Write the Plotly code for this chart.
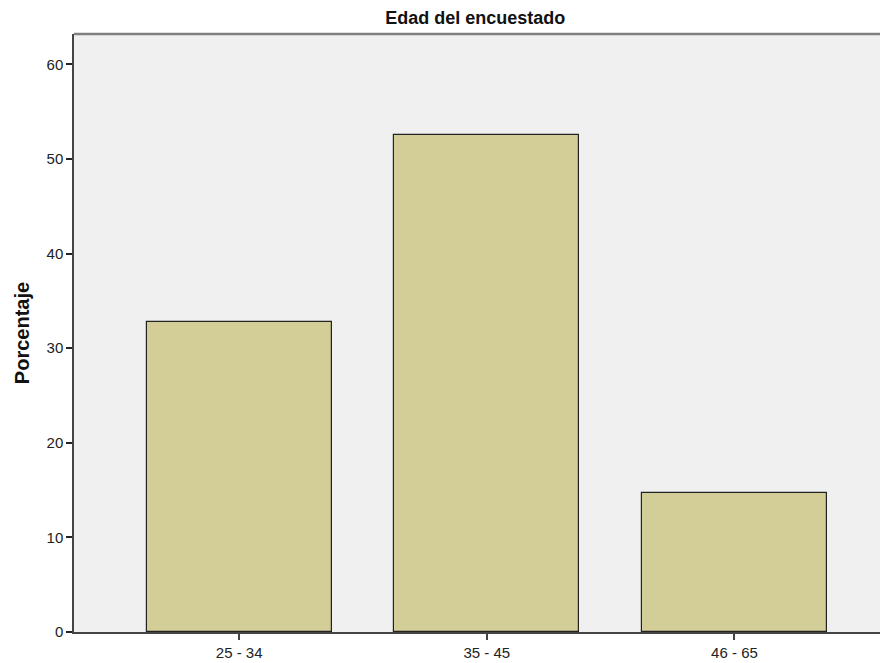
import plotly.graph_objects as go

categories = ["25 - 34", "35 - 45", "46 - 65"]
percentages = [32.8, 52.5, 14.7]
y_ticks = [0, 10, 20, 30, 40, 50, 60]

fig = go.Figure()
fig.add_trace(go.Bar(
    x=[0, 1, 2], y=percentages, width=0.746,
    marker=dict(color="#d3cd98", line=dict(color="#222222", width=1.2)),
))

fig.update_layout(
    width=880, height=655,
    margin=dict(l=66, r=0, t=26, b=31),
    paper_bgcolor="white", plot_bgcolor="#f0f0f0",
    showlegend=False,
    font=dict(family="Liberation Sans, Arial, sans-serif", color="#222222", size=15),
    title=dict(text="<b>Edad del encuestado</b>", x=0.531, xanchor="center",
               y=0.985, yanchor="middle", font=dict(size=18, color="#111111")),
    bargap=0,
)
fig.update_xaxes(
    range=[-0.667, 2.62], tickvals=[0, 1, 2], ticktext=categories,
    showgrid=False, zeroline=False, showline=True, linecolor="#444444", linewidth=1.5,
    ticks="outside", ticklen=6, tickcolor="#444444", tickwidth=1.5,
    tickfont=dict(size=15),
)
fig.update_yaxes(
    range=[0, 63.2], tickvals=y_ticks,
    showgrid=False, zeroline=False, showline=True, linecolor="#444444", linewidth=1.5,
    ticks="outside", ticklen=6, tickcolor="#222222", tickwidth=1.5,
    tickfont=dict(size=15),
    title=dict(text="<b>Porcentaje</b>", font=dict(size=20, color="#111111"), standoff=12),
)
fig.add_shape(type="line", xref="paper", yref="paper", x0=0, x1=1, y0=1, y1=1,
              line=dict(color="#808080", width=2.5))

fig.write_html("out.html")
